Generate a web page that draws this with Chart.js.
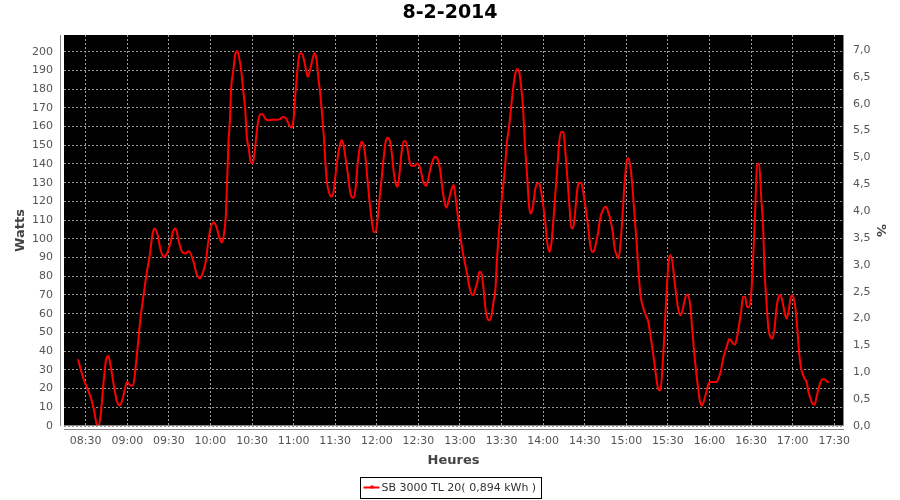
<!DOCTYPE html>
<html>
<head>
<meta charset="utf-8">
<title>8-2-2014</title>
<script src="https://cdn.jsdelivr.net/npm/chart.js@4/dist/chart.umd.min.js"></script>
<style>
    body { margin: 0; background: #fff; }
    #graph { display: block; }
</style>
</head>
<body>
<canvas id="graph" width="900" height="500"></canvas>
<script>
//--- Data (time in minutes since midnight, power in watts)
var chartTitle = '8-2-2014';
var seriesName = 'SB 3000 TL 20( 0,894 kWh )';
var timeTicks = ['08:30', '09:00', '09:30', '10:00', '10:30', '11:00', '11:30', '12:00', '12:30', '13:00',
                 '13:30', '14:00', '14:30', '15:00', '15:30', '16:00', '16:30', '17:00', '17:30'];
var minutes = [
    504.5, 506.9, 509.3, 511.7, 513.6, 516, 517.9, 519.3, 520.8, 522.7,
    524.6, 526.3, 527.9, 530.3, 532.7, 534.6, 537, 539.9, 542.3, 544.2,
    545.9, 547.6, 549.5, 551.4, 553.8, 556.2, 558.1, 559.5, 561.9, 563.8,
    566.2, 568.6, 571, 572.9, 574.8, 577.2, 579.6, 582, 584.4, 587.8,
    589.9, 592.3, 594.7, 596.6, 598.1, 600, 602.4, 604.3, 606.3, 608.2,
    609.6, 611.1, 612, 613, 614, 614.9, 616.4, 617.8, 619.3, 620.8,
    622.3, 623.7, 625.2, 626.1, 627.6, 629, 630.5, 631.9, 633.4, 634.8,
    636.3, 637.7, 639.7, 642.1, 644.5, 647.4, 649.8, 652.2, 654.6, 656.5,
    658.5, 660, 661.4, 662.9, 664.3, 666.3, 668.2, 670.2, 672.1, 673.5,
    675, 676.4, 677.9, 679.3, 680.8, 682.2, 682.9, 684, 685.4, 687.3,
    688.8, 690.2, 691.7, 693.1, 694.6, 696, 697.5, 698.9, 700.4, 701.8,
    703.3, 704.7, 706.1, 707.6, 709, 710.5, 711.9, 713.4, 714.8, 716.3,
    717.7, 719.2, 720.6, 722, 723.5, 724.9, 726.4, 727.8, 729.3, 730.7,
    732.2, 733.6, 735.1, 736.5, 737.9, 739.4, 740.8, 742.3, 743.7, 745.2,
    747.1, 749, 751, 752.4, 753.9, 755.8, 757.2, 758.7, 760.1, 762,
    764, 765.9, 767.3, 768.8, 770.2, 772.2, 774.1, 775.5, 776.6, 778.1,
    779.5, 781, 782.4, 783.9, 785.3, 786.8, 788.2, 789.7, 791.1, 792.6,
    794, 795.5, 797, 798.4, 799.8, 801.3, 802.7, 804.2, 805.6, 806.6,
    808.1, 809.5, 811, 812.4, 813.9, 815.3, 816.8, 818.2, 819.7, 821.1,
    822.6, 824, 825.5, 826.9, 828.4, 829.9, 831.3, 832.8, 834.2, 835.7,
    837.1, 838.6, 840, 841.5, 842.9, 844.4, 845.8, 847.3, 848.7, 850.2,
    851.6, 853.1, 854.6, 856, 857.5, 858.9, 860.4, 861.8, 863.3, 864.7,
    866.2, 867.6, 869.6, 871.1, 872.6, 874, 875.4, 876.9, 878.3, 879.7,
    881.1, 882.6, 884, 885.4, 886.9, 888.3, 890.2, 891.6, 893.1, 894.5,
    895.9, 897.4, 898.8, 900.2, 901.6, 903.1, 904.5, 905.9, 907.4, 908.8,
    910.2, 911.7, 913.1, 914.5, 915.9, 917.4, 918.8, 920.3, 921.7, 923.1,
    924.6, 926, 927.4, 928.9, 930.3, 931.7, 933.2, 934.6, 936, 937.4,
    938.9, 940.3, 941.8, 943.2, 944.6, 946.1, 947.5, 948.9, 950.4, 951.8,
    953.2, 954.6, 956.1, 957.5, 958.9, 960.4, 962.8, 964.9, 966.9, 968.3,
    969.8, 971.2, 972.7, 974.1, 975.5, 977, 978.4, 979.9, 981.3, 982.8,
    984.2, 985.7, 987.1, 988.6, 990, 991.4, 992.9, 994.3, 995.8, 997.2,
    998.7, 999.6, 1001.1, 1002.5, 1004, 1005.4, 1006.9, 1008.3, 1009.8, 1011.2,
    1012.7, 1014.1, 1015.5, 1017, 1018.4, 1019.9, 1021.3, 1022.8, 1024.2, 1025.7,
    1027.1, 1028.6, 1030, 1031.4, 1032.9, 1034.3, 1035.8, 1037.2, 1038.7, 1040.1,
    1041.6, 1043, 1044.5, 1045.9
];
var watts = [
    35.6, 28.9, 23.5, 19, 15.5, 8.4, 1.2, 0, 5.7, 21.7,
    35, 37.4, 32.4, 21.7, 12.8, 11, 15.5, 23.5, 21.7, 21.7,
    30.7, 43.1, 57.4, 68, 80.6, 91.3, 102, 105.5, 102, 94.8,
    90.4, 92.2, 97.5, 103.7, 105.5, 98.4, 93, 92.2, 93.4, 87.7,
    81.5, 78.8, 82.4, 87.7, 96.6, 105.5, 108.7, 106.4, 101, 98,
    102, 112.7, 130.5, 151.9, 162.6, 180.4, 189.3, 198.2, 200.4, 196.4,
    189.3, 178.6, 167.9, 155.4, 148.3, 141.2, 140.3, 146.5, 157.2, 164.3,
    166.5, 166.5, 164, 163.3, 163.6, 163.6, 163.8, 165.1, 164.3, 161.1,
    159.4, 164.3, 178.6, 191.1, 199.1, 198.6, 192.9, 186.6, 191.1, 195.5,
    199.1, 196.4, 185.7, 176.8, 164.3, 150.1, 141, 130.5, 125.1, 122.5,
    125.1, 134, 143, 149.2, 152.8, 150.1, 143, 135.8, 126.9, 122.5,
    121.9, 126.9, 139.4, 148.3, 151.9, 150.1, 143, 130.5, 119.8, 110,
    103.7, 103.7, 110.9, 121.6, 132.3, 143, 151.9, 154, 152.8, 146.5,
    135.8, 129.6, 127.8, 135.8, 146.5, 152.2, 152.2, 147.4, 141.2, 139,
    139, 140.3, 138.5, 134, 129.6, 128.3, 132.3, 137.6, 141.2, 143.9,
    142.6, 135.8, 126.9, 119.8, 116.6, 121.6, 126.9, 128.7, 123.4, 114.4,
    105.5, 97.5, 91.3, 85.9, 80.6, 74.3, 70.8, 69.9, 73.4, 77,
    82.4, 81.5, 73.4, 62.7, 57.4, 56.5, 59.2, 66.3, 73.4, 87.7,
    103.7, 116.2, 126.9, 137.6, 151.9, 159, 169.7, 179.5, 187.5, 190.7,
    189.6, 182.2, 169.7, 150.1, 134, 117.1, 113.5, 118, 126, 129.6,
    129.6, 125.1, 118, 109.1, 98.4, 93, 96.6, 109.1, 123.4, 137.6,
    151.9, 157.2, 156.9, 146.5, 132.3, 118, 105.5, 106.4, 116.2, 126.9,
    129.9, 129.6, 121.6, 114.4, 105.5, 96.6, 93, 93.9, 98.4, 103.7,
    110.7, 114.4, 116.6, 117.1, 114.4, 110.9, 103.7, 94.8, 91.3, 89.5,
    98.4, 114.4, 130.5, 141.2, 143, 137.6, 126.9, 112.7, 98.4, 82.4,
    69.9, 64.5, 61, 58.3, 55.6, 48.5, 41.4, 33.3, 25.3, 19.6,
    19.1, 30.7, 48.5, 69.9, 85.9, 91.3, 87.7, 78.8, 69.9, 62.7,
    59.2, 61, 66.3, 69.9, 69.9, 64.5, 52, 39.6, 28.9, 20,
    12.8, 11, 13.7, 17.3, 21.7, 23.5, 23.5, 23.5, 26.2, 29.8,
    36, 39.6, 43.1, 46.3, 45.8, 44, 43.5, 47.6, 53.8, 61,
    69, 69, 63.6, 63.6, 69.9, 87.7, 114.4, 139.4, 140.3, 123.4,
    105.5, 84.1, 66.3, 52, 47.6, 46.7, 52, 62.7, 69, 69.9,
    66.3, 61, 57.4, 61, 68, 69.9, 66.3, 57.4, 43.1, 32.4,
    28, 25.3, 23.5, 18.2, 14.6, 11.9, 11.4, 15.5, 20, 23.5,
    25, 25, 23.9, 23.2
];

//--- Helpers
function toMinutes(hhmm) {
    var p = hhmm.split(':');
    return parseInt(p[0], 10) * 60 + parseInt(p[1], 10);
}

var points = [];
for (var i = 0; i < minutes.length; i++) {
    points.push({ x: minutes[i], y: watts[i] });
}

var tickFont = { family: 'DejaVu Sans', size: 11 };
var axisFont = { family: 'DejaVu Sans', size: 13, weight: 'bold' };
var gridColor = '#9a9a9a';

// black plot background, axis lines and the boxed legend (JFreeChart look)
var plotFrame = {
    id: 'plotFrame',
    beforeDraw: function (chart) {
        var ctx = chart.ctx, a = chart.chartArea;
        ctx.save();
        ctx.fillStyle = '#000';
        ctx.fillRect(a.left, a.top, a.right - a.left, a.bottom - a.top);
        ctx.restore();
    },
    afterDraw: function (chart) {
        var ctx = chart.ctx, a = chart.chartArea;
        ctx.save();
        ctx.strokeStyle = '#888';
        ctx.lineWidth = 1;
        ctx.beginPath();
        ctx.moveTo(a.left - 3.5, a.top); ctx.lineTo(a.left - 3.5, a.bottom);
        ctx.moveTo(a.left, a.bottom + 3.5); ctx.lineTo(a.right + 1, a.bottom + 3.5);
        ctx.moveTo(a.right + 0.5, a.top); ctx.lineTo(a.right + 0.5, a.bottom);
        ctx.moveTo(a.left, a.bottom - 0.5); ctx.lineTo(a.right, a.bottom - 0.5);
        ctx.stroke();

        // legend
        ctx.font = '11px "DejaVu Sans"';
        var tw = ctx.measureText(seriesName).width;
        var w = Math.round(tw + 26), h = 21;
        var x0 = Math.round(chart.width / 2 - w / 2) + 0.5, y0 = 477.5;
        ctx.strokeStyle = '#000';
        ctx.strokeRect(x0, y0, w, h);
        ctx.strokeStyle = '#ff0000';
        ctx.lineWidth = 2;
        ctx.beginPath();
        ctx.moveTo(x0 + 3, y0 + 10); ctx.lineTo(x0 + 19, y0 + 10);
        ctx.stroke();
        ctx.fillStyle = '#ff0000';
        ctx.fillRect(x0 + 10, y0 + 8, 3, 3);
        ctx.fillStyle = '#333';
        ctx.textBaseline = 'middle';
        ctx.fillText(seriesName, x0 + 21, y0 + 11);
        ctx.restore();
    }
};

new Chart(document.getElementById('graph'), {
    type: 'line',
    data: {
        datasets: [{
            label: seriesName,
            data: points,
            borderColor: '#ff0000',
            borderWidth: 2,
            pointRadius: 0,
            cubicInterpolationMode: 'monotone',
            yAxisID: 'y'
        }]
    },
    options: {
        responsive: false,
        animation: false,
        layout: { padding: 0 },
        plugins: {
            legend: { display: false },
            tooltip: { enabled: false },
            title: {
                display: true,
                text: chartTitle,
                color: '#000',
                font: { family: 'DejaVu Sans', size: 19, weight: 'bold' },
                padding: { top: 2, bottom: 10.2 }
            }
        },
        scales: {
            x: {
                type: 'linear',
                min: 494.35,
                max: 1056.3,
                afterFit: function (s) { s.height = 74; },
                afterBuildTicks: function (s) {
                    s.ticks = timeTicks.map(function (t) { return { value: toMinutes(t) }; });
                },
                ticks: {
                    autoSkip: false,
                    maxRotation: 0,
                    padding: 9,
                    color: '#555',
                    font: tickFont,
                    callback: function (v, idx) { return timeTicks[idx]; }
                },
                grid: { color: gridColor, drawTicks: false },
                border: { display: false, dash: [2, 2] },
                title: { display: true, text: 'Heures', color: '#444', font: axisFont, padding: { bottom: 32 } }
            },
            y: {
                position: 'left',
                min: 0,
                max: 208.9,
                afterFit: function (s) { s.width = 64; },
                ticks: { stepSize: 10, includeBounds: false, padding: 11, color: '#555', font: tickFont },
                grid: { color: gridColor, drawTicks: false },
                border: { display: false, dash: [2, 2] },
                title: { display: true, text: 'Watts', color: '#444', font: axisFont, padding: { top: 13 } }
            },
            y2: {
                position: 'right',
                min: 0,
                max: 7.28,
                afterFit: function (s) { s.width = 57; },
                ticks: {
                    stepSize: 0.5,
                    includeBounds: false,
                    padding: 10,
                    color: '#555',
                    font: tickFont,
                    callback: function (v) { return v.toFixed(1).replace('.', ','); }
                },
                grid: { display: false, drawTicks: false },
                border: { display: false },
                title: { display: true, text: '%', color: '#444', font: axisFont, padding: { top: 12 } }
            }
        }
    },
    plugins: [plotFrame]
});
</script>
</body>
</html>
